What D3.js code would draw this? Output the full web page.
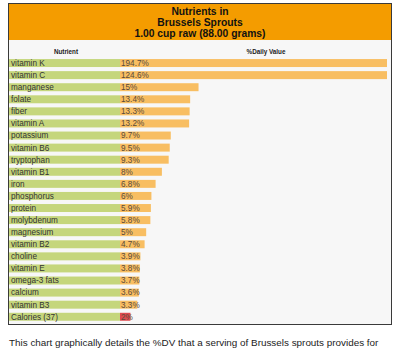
<!DOCTYPE html>
<html><head><meta charset="utf-8">
<script src="https://cdn.jsdelivr.net/npm/d3@7"></script>
<style>html,body{margin:0;padding:0;background:#fff;}</style>
</head><body>
<svg id="c" width="400" height="352"></svg>
<script>
const titleLines = ["Nutrients in", "Brussels Sprouts", "1.00 cup raw (88.00 grams)"];
const columnHeaders = ["Nutrient", "%Daily Value"];
const nutrients = ["vitamin K","vitamin C","manganese","folate","fiber","vitamin A","potassium","vitamin B6","tryptophan","vitamin B1","iron","phosphorus","protein","molybdenum","magnesium","vitamin B2","choline","vitamin E","omega-3 fats","calcium","vitamin B3","Calories (37)"];
const dvValues = [194.7,124.6,15,13.4,13.3,13.2,9.7,9.5,9.3,8,6.8,6,5.9,5.8,5,4.7,3.9,3.8,3.7,3.6,3.3,2];
const dvLabels = ["194.7%","124.6%","15%","13.4%","13.3%","13.2%","9.7%","9.5%","9.3%","8%","6.8%","6%","5.9%","5.8%","5%","4.7%","3.9%","3.8%","3.7%","3.6%","3.3%","2%"];
const caption = "This chart graphically details the %DV that a serving of Brussels sprouts provides for";

const svg = d3.select("#c");
const F = "Arial, 'Liberation Sans', sans-serif";
const frame = {x0: 8.5, y0: 3.5, x1: 391.5, y1: 324.5};

svg.append("rect").attr("x", frame.x0).attr("y", frame.y0)
  .attr("width", frame.x1 - frame.x0).attr("height", frame.y1 - frame.y0)
  .attr("fill", "#f7f7f7").attr("stroke", "#3a3a3a").attr("stroke-width", 1);
svg.append("rect").attr("x", 9).attr("y", 4).attr("width", 382).attr("height", 36).attr("fill", "#f49c00");

svg.selectAll("text.title").data(titleLines).join("text").attr("class","title")
  .attr("x", 200).attr("y", (d,i) => 14.5 + i*11.3).attr("text-anchor","middle")
  .attr("font-family", F).attr("font-weight","bold").attr("font-size", 10.3).attr("fill","#111").text(d => d);

svg.selectAll("text.colh").data(columnHeaders).join("text").attr("class","colh")
  .attr("x", (d,i) => i === 0 ? 66 : 266).attr("y", 53.5).attr("text-anchor","middle")
  .attr("font-family", F).attr("font-weight","bold").attr("font-size", 6.3).attr("fill","#222").text(d => d);

const y = d3.scaleBand().domain(nutrients).range([57, 322.8]).paddingInner(0.34).paddingOuter(0.17);
const x = d3.scaleLinear().domain([0, 51]).range([120, 387]).clamp(true);

const rows = svg.selectAll("g.row").data(nutrients).join("g").attr("class","row");
rows.append("rect").attr("x", 9).attr("y", d => y(d)).attr("width", 111).attr("height", y.bandwidth()).attr("fill", "#c5d67c");
rows.append("rect").attr("x", x(0)).attr("y", d => y(d))
  .attr("width", (d,i) => x(dvValues[i]) - x(0)).attr("height", y.bandwidth())
  .attr("fill", (d,i) => i === nutrients.length - 1 ? "#df4a4f" : "#f8be62");
rows.append("text").attr("x", 11).attr("y", d => y(d) + y.bandwidth()/2 + 2.9)
  .attr("font-family", F).attr("font-size", 8.2).attr("fill", "#333").text(d => d);
rows.append("text").attr("x", 121).attr("y", d => y(d) + y.bandwidth()/2 + 2.9)
  .attr("font-family", F).attr("font-size", 8.2).attr("fill", "#5a4a3a").text((d,i) => dvLabels[i]);

svg.append("text").attr("x", 9).attr("y", 345.5).attr("font-family", F).attr("font-size", 9.9)
  .attr("fill", "#222").text(caption);
</script>
</body></html>
